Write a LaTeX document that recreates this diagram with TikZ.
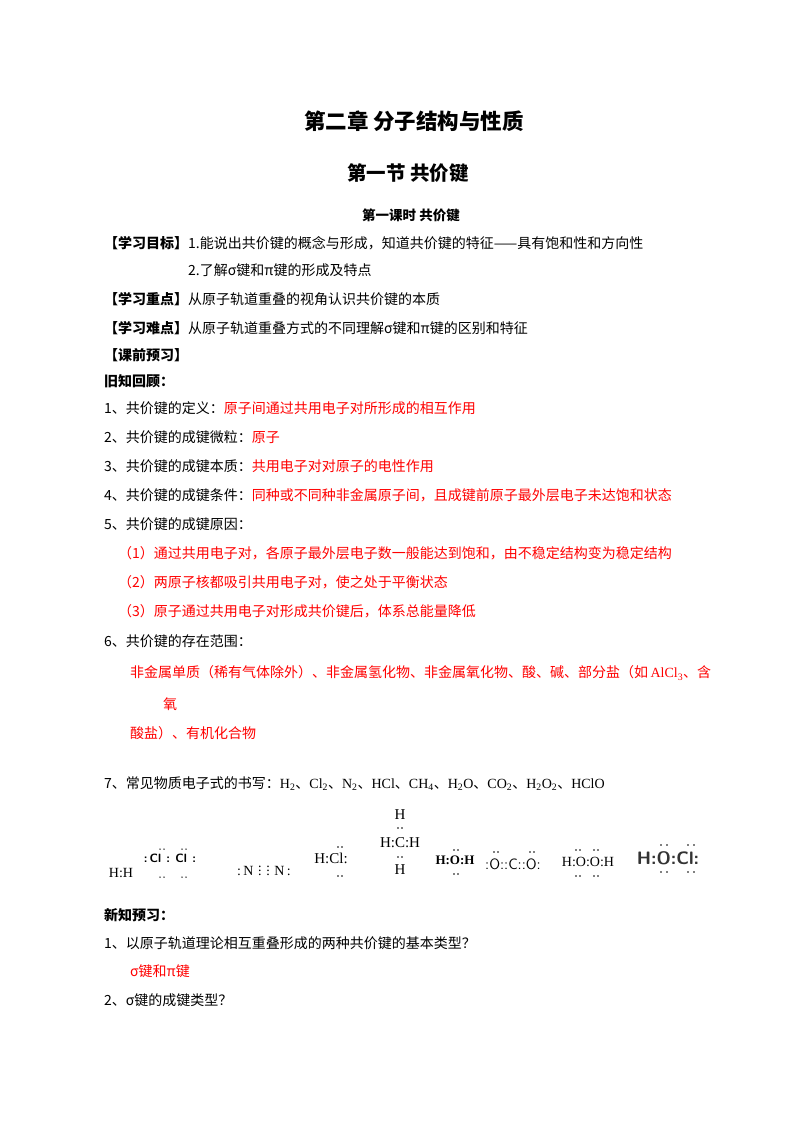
\documentclass[tikz,border=0pt]{standalone}
\usepackage{fontspec}
\setmainfont{Liberation Serif}
\newfontfamily\cjk{Noto Sans CJK SC}
\newcommand{\dn}{{\cjk 、}}
\begin{document}
\begin{tikzpicture}[x=1pt,y=-1pt,
 t/.style={anchor=west,inner sep=0pt,font=\fontsize{14}{16}\selectfont\cjk},
 r/.style={t,text=red},
 f/.style={inner sep=0pt,font=\fontsize{14}{16}\selectfont},
 dt/.style={fill=black,circle,inner sep=0pt,minimum size=1.8pt}]
\useasboundingbox (0,0) rectangle (800,1132);
\node[inner sep=0pt,font=\fontsize{21.5}{24}\selectfont\cjk\bfseries] (h1) at (414,121) {第二章\ 分子结构与性质};
\node[inner sep=0pt,font=\fontsize{19.5}{22}\selectfont\cjk\bfseries] (h2) at (408,173) {第一节\ 共价键};
\node[inner sep=0pt,font=\fontsize{13.5}{15}\selectfont\cjk\bfseries] (h3) at (411,215) {第一课时\ 共价键};
\node[t] (a1) at (104,243) {\bfseries【学习目标】\mdseries 1.能说出共价键的概念与形成，知道共价键的特征——具有饱和性和方向性};
\node[t] (a2) at (188,270) {2.了解σ键和π键的形成及特点};
\node[t] (a3) at (104,299) {\bfseries【学习重点】\mdseries 从原子轨道重叠的视角认识共价键的本质};
\node[t] (a4) at (104,328) {\bfseries【学习难点】\mdseries 从原子轨道重叠方式的不同理解σ键和π键的区别和特征};
\node[t] (a5) at (104,355) {\bfseries【课前预习】};
\node[t] (a6) at (104,381) {\bfseries 旧知回顾：};
\node[t] (b1) at (104,408) {1、共价键的定义：\textcolor{red}{原子间通过共用电子对所形成的相互作用}};
\node[t] (b2) at (104,437) {2、共价键的成键微粒：\textcolor{red}{原子}};
\node[t] (b3) at (104,466) {3、共价键的成键本质：\textcolor{red}{共用电子对对原子的电性作用}};
\node[t] (b4) at (104,495) {4、共价键的成键条件：\textcolor{red}{同种或不同种非金属原子间，且成键前原子最外层电子未达饱和状态}};
\node[t] (b5) at (104,524) {5、共价键的成键原因：};
\node[r] (c1) at (118,553) {（1）通过共用电子对，各原子最外层电子数一般能达到饱和，由不稳定结构变为稳定结构};
\node[r] (c2) at (118,582) {（2）两原子核都吸引共用电子对，使之处于平衡状态};
\node[r] (c3) at (118,611) {（3）原子通过共用电子对形成共价键后，体系总能量降低};
\node[t] (b6) at (104,641) {6、共价键的存在范围：};
\node[r] (d1) at (130,673) {非金属单质（稀有气体除外）、非金属氢化物、非金属氧化物、酸、碱、部分盐（如\,{\rmfamily AlCl\textsubscript{3}}、含};
\node[r] (d2) at (163,704) {氧};
\node[r] (d3) at (130,733) {酸盐）、有机化合物};
\node[t] (b7) at (104,784) {7、常见物质电子式的书写：{\rmfamily H\textsubscript{2}\dn Cl\textsubscript{2}\dn N\textsubscript{2}\dn HCl\dn CH\textsubscript{4}\dn H\textsubscript{2}O\dn CO\textsubscript{2}\dn H\textsubscript{2}O\textsubscript{2}\dn HClO}};
% electron formulas
\node[f] (e1) at (121,873) {H:H};
\node[f,font=\fontsize{12}{14}\selectfont\sffamily\bfseries] (e2) at (170,858) {:\,Cl\;\,:\;\,Cl\;\,:};
\foreach \x in {162,184} {\node[dt,minimum size=1.5pt] at (\x-2,849) {};\node[dt,minimum size=1.5pt] at (\x+2,849) {};\node[dt,minimum size=1.5pt] at (\x-2,877) {};\node[dt,minimum size=1.5pt] at (\x+2,877) {};}
\node[f] (e3) at (264,868) {:\,N\,\,$\vdots$\,\,$\vdots$\,\,N\,:};
\node[f,font=\fontsize{15}{17}\selectfont] (e4) at (331,858) {H:Cl:};
\foreach \x in {340} {\node[dt] at (\x-2,847) {};\node[dt] at (\x+2,847) {};\node[dt] at (\x-2,876) {};\node[dt] at (\x+2,876) {};}
\node[f,font=\fontsize{15}{17}\selectfont] (e5a) at (400,815) {H};
\node[f,font=\fontsize{15}{17}\selectfont] (e5) at (400,843) {H:C:H};
\node[f,font=\fontsize{15}{17}\selectfont] (e5b) at (400,870) {H};
\foreach \y in {828,857} {\node[dt] at (398,\y) {};\node[dt] at (402,\y) {};}
\node[f,font=\fontsize{13}{15}\selectfont\bfseries] (e6) at (455,860) {H:O:H};
\foreach \y in {850,874} {\node[dt] at (454,\y) {};\node[dt] at (458,\y) {};}
\node[f,font=\fontsize{15}{17}\selectfont\sffamily] (e7) at (513,864) {:O::C::O:};
\foreach \x in {496,532} {\node[dt] at (\x-2,852) {};\node[dt] at (\x+2,852) {};}
\node[f] (e8) at (588,862) {H:O:O:H};
\foreach \x in {578,596} {\node[dt] at (\x-2,850) {};\node[dt] at (\x+2,850) {};\node[dt] at (\x-2,876) {};\node[dt] at (\x+2,876) {};}
\node[f,font=\fontsize{18}{20}\selectfont\sffamily\bfseries,text=black!80] (e9) at (668,858) {H:O:Cl:};
\foreach \x in {664,691} {\node[dt] at (\x-3,845) {};\node[dt] at (\x+3,845) {};\node[dt] at (\x-3,872) {};\node[dt] at (\x+3,872) {};}
\node[t] (g0) at (104,915) {\bfseries 新知预习：};
\node[t] (g1) at (104,943) {1、以原子轨道理论相互重叠形成的两种共价键的基本类型？};
\node[r] (g2) at (130,971) {σ键和π键};
\node[t] (g3) at (104,1000) {2、σ键的成键类型？};
\end{tikzpicture}
\end{document}
